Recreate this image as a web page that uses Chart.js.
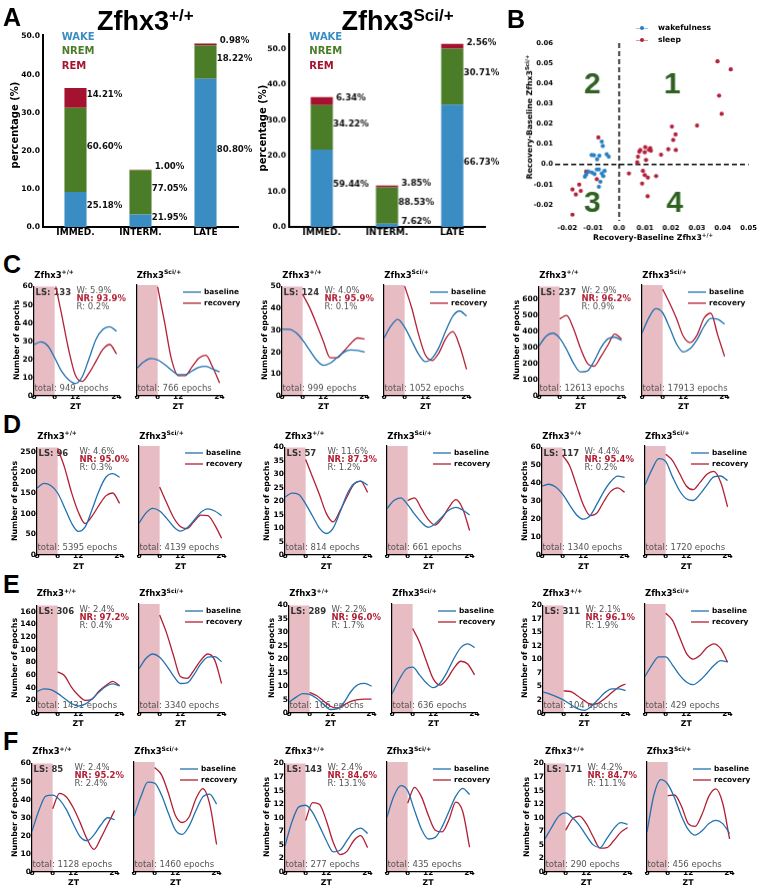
<!DOCTYPE html>
<html lang="en">
<head>
<meta charset="UTF-8" />
<title>Zfhx3 sleep recovery</title>
<script src="https://cdn.jsdelivr.net/npm/chart.js"></script>
<style>
  body { margin: 0; background: #fff; font-family: 'DejaVu Sans', sans-serif; }
  #fig { position: relative; width: 761px; height: 888px; overflow: hidden; }
  #fig canvas { position: absolute; }
  .t { position: absolute; white-space: nowrap; line-height: 1; color: #000; }
  .c { transform: translate(-50%, -50%); }
  .rot { transform: translate(-50%, -50%) rotate(-90deg); }
  .letter { font-family: 'Liberation Sans', Arial, sans-serif; font-weight: bold; font-size: 25px; }
  .big { font-family: 'Liberation Sans', Arial, sans-serif; font-weight: bold; font-size: 27px; }
  .big span { position: relative; top: -9px; font-size: 17px; }
  .st { font-weight: bold; font-size: 8.5px; }
  .st span { position: relative; top: -3.5px; font-size: 6px; }
  .lab { font-weight: bold; font-size: 7.8px; }
  .lab span { position: relative; top: -3px; font-size: 5.5px; }
  .stage { font-weight: bold; font-size: 10px; }
</style>
</head>
<body>
<div id="fig"></div>
<script>
// ---- panel A: percentage of each stage, stacked
const stages = ['IMMED.', 'INTERM.', 'LATE'];
const wtWake = [9.2, 3.3, 38.9];
const wtNrem = [22.1, 11.6, 8.8];
const wtRem = [5.2, 0.15, 0.47];
const wtWakeLbl = ['25.18%', '21.95%', '80.80%'];
const wtNremLbl = ['60.60%', '77.05%', '18.22%'];
const wtRemLbl = ['14.21%', '1.00%', '0.98%'];
const sciWake = [21.75, 0.89, 34.4];
const sciNrem = [12.5, 10.3, 15.8];
const sciRem = [2.32, 0.45, 1.32];
const sciWakeLbl = ['59.44%', '7.62%', '66.73%'];
const sciNremLbl = ['34.22%', '88.53%', '30.71%'];
const sciRemLbl = ['6.34%', '3.85%', '2.56%'];
const pctTicks = [0, 10, 20, 30, 40, 50];

// ---- panel B: recovery-baseline differences
const wakeX = [-0.0067, -0.0063, -0.0106, -0.0097, -0.0076, -0.0085, -0.0048, -0.0040, -0.0132, -0.0120,
  -0.0105, -0.0095, -0.0086, -0.0078, -0.0067, -0.0061, -0.0056, -0.0072, -0.0078, -0.0127];
const wakeY = [0.0113, 0.0091, 0.0046, 0.0045, 0.0043, 0.0025, 0.0050, 0.0038, -0.0061, -0.0036,
  -0.0040, -0.0048, -0.0025, -0.0025, -0.0045, -0.0058, -0.0032, -0.0086, -0.0111, -0.0050];
const sleepX = [0.0380, 0.0431, 0.0386, 0.0396, 0.0301, 0.0204, 0.0218, 0.0209, 0.0190, 0.0219,
  0.0162, 0.0143, 0.0120, 0.0123, 0.0115, 0.0101, 0.0099, 0.0082, 0.0078, 0.0073,
  0.0070, 0.0104, 0.0092, 0.0099, 0.0111, 0.0089, 0.0110, 0.0038, -0.0080, -0.0086,
  -0.0127, -0.0120, -0.0154, -0.0148, -0.0180, -0.0167, -0.0180];
const sleepY = [0.0510, 0.0470, 0.0340, 0.0250, 0.0192, 0.0187, 0.0148, 0.0121, 0.0075, 0.0071,
  0.0048, -0.0058, 0.0080, 0.0068, 0.0072, 0.0085, 0.0060, 0.0071, 0.0063, 0.0038,
  0.0010, 0.0022, -0.0032, -0.0053, -0.0065, -0.0095, -0.0158, -0.0045, 0.0133, -0.0073,
  -0.0036, -0.0036, -0.0100, -0.0131, -0.0124, -0.0149, -0.0249];
const diffTicksX = [-0.02, -0.01, 0, 0.01, 0.02, 0.03, 0.04, 0.05];
const diffTicksY = [-0.02, -0.01, 0, 0.01, 0.02, 0.03, 0.04, 0.05, 0.06];

// ---- panels C-F: epochs over the day
const ztBase = [0, 2, 4, 6, 8, 10, 12, 14, 16, 18, 20, 22, 24];
const ztRec = [6, 8, 10, 12, 14, 16, 18, 20, 22, 24];
const ztTicks = [0, 6, 12, 24];

const c1Ticks = [0, 10, 20, 30, 40, 50, 60];
const c1WtBase = [28.2, 29.6, 27.5, 21, 13.6, 9, 6.8, 10.5, 20.5, 31, 36.5, 38, 35.5];
const c1WtRec = [63, 45, 26, 11.5, 8, 12.5, 19, 25.5, 28.2, 23];
const c1SciBase = [15, 18.5, 20.3, 19.5, 17, 14, 11.5, 11.5, 13.5, 15.5, 16, 14.5, 13];
const c1SciRec = [59, 40, 20, 11, 11, 15.8, 20.5, 22, 15.5, 7];
const c1Stats = ['LS: 133', 'W: 5.9%', 'NR: 93.9%', 'R: 0.2%'];
const c1Totals = ['total: 949 epochs', 'total: 766 epochs'];

const c2Ticks = [0, 10, 20, 30, 40, 50];
const c2WtBase = [30.5, 30.5, 29, 25.5, 21, 16.5, 14, 15, 17.5, 20, 21, 20.8, 20];
const c2WtRec = [46.5, 40.5, 33, 25, 17.5, 17.5, 20.5, 24, 26.5, 26];
const c2SciBase = [26, 31.5, 34.5, 31, 25, 19, 15.5, 17, 22, 29.5, 36, 38.3, 36];
const c2SciRec = [49.5, 40, 28, 18.5, 16, 19.5, 26, 29, 22.5, 12];
const c2Stats = ['LS: 124', 'W: 4.0%', 'NR: 95.9%', 'R: 0.1%'];
const c2Totals = ['total: 999 epochs', 'total: 1052 epochs'];

const c3Ticks = [0, 100, 200, 300, 400, 500, 600];
const c3WtBase = [310, 370, 390, 360, 290, 205, 150, 155, 215, 300, 355, 365, 345];
const c3WtRec = [478, 500, 420, 300, 205, 185, 245, 315, 385, 355];
const c3SciBase = [385, 480, 535, 510, 420, 320, 270, 290, 345, 425, 475, 470, 440];
const c3SciRec = [655, 570, 476, 366, 327, 373, 476, 507, 373, 242];
const c3Stats = ['LS: 237', 'W: 2.9%', 'NR: 96.2%', 'R: 0.9%'];
const c3Totals = ['total: 12613 epochs', 'total: 17913 epochs'];

const d1Ticks = [0, 50, 100, 150, 200, 250];
const d1WtBase = [162, 173, 168, 150, 115, 78, 57, 68, 110, 155, 188, 197, 188];
const d1WtRec = [258, 212, 152, 104, 76, 94, 120, 143, 150, 125];
const d1SciBase = [76, 100, 111, 105, 88, 68, 57, 65, 83, 102, 110, 105, 94];
const d1SciRec = [162, 125, 90, 68, 63, 80, 95, 94, 72, 40];
const d1Stats = ['LS: 96', 'W: 4.6%', 'NR: 95.0%', 'R: 0.3%'];
const d1Totals = ['total: 5395 epochs', 'total: 4139 epochs'];

const d2Ticks = [0, 5, 10, 15, 20, 25, 30, 35, 40];
const d2WtBase = [21.5, 23, 22.5, 19, 14.5, 10, 8, 10, 16, 22.5, 26.5, 27.5, 26];
const d2WtRec = [35.5, 29, 22.5, 15.5, 12.3, 16.5, 21.6, 26.3, 27.5, 23.3];
const d2SciBase = [17, 20, 21, 18.5, 15, 12, 10.2, 11.5, 14, 16.5, 17.5, 16.5, 14.7];
const d2SciRec = [20, 21, 17, 13, 11, 13.5, 17.5, 20.3, 17, 9];
const d2Stats = ['LS: 57', 'W: 11.6%', 'NR: 87.3%', 'R: 1.2%'];
const d2Totals = ['total: 814 epochs', 'total: 661 epochs'];

const d3Ticks = [0, 10, 20, 30, 40, 50, 60];
const d3WtBase = [38.5, 39.5, 38, 34, 28, 22.5, 20, 22, 28.5, 35.5, 41, 44, 43.3];
const d3WtRec = [55.5, 50, 39, 28, 22, 23.5, 30, 35.5, 37.5, 35];
const d3SciBase = [38.5, 47, 53, 51.5, 43, 35.5, 31, 30, 33.5, 38.5, 43, 43.5, 41];
const d3SciRec = [55.5, 52, 45, 38, 36, 40, 44.5, 46, 40, 26.5];
const d3Stats = ['LS: 117', 'W: 4.4%', 'NR: 95.4%', 'R: 0.2%'];
const d3Totals = ['total: 1340 epochs', 'total: 1720 epochs'];

const e1Ticks = [0, 20, 40, 60, 80, 100, 120, 140, 160];
const e1WtBase = [34, 38, 37, 31, 23, 15, 11, 14, 22, 33, 42, 46, 43];
const e1WtRec = [65, 59, 41, 28, 20, 22, 34.5, 43.5, 50, 43.3];
const e1SciBase = [69, 85, 92, 87, 74, 58, 46, 47, 60, 77, 87, 88, 80];
const e1SciRec = [153, 125, 90, 57, 54, 67, 82.5, 92, 82.5, 46];
const e1Stats = ['LS: 306', 'W: 2.4%', 'NR: 97.2%', 'R: 0.4%'];
const e1Totals = ['total: 1431 epochs', 'total: 3340 epochs'];

const e2Ticks = [0, 5, 10, 15, 20, 25, 30, 35, 40];
const e2WtBase = [4, 5.8, 7.2, 6.9, 5.5, 3.3, 1.3, 1.5, 4, 8, 10.5, 11, 10];
const e2WtRec = [7.7, 6.5, 4.5, 2.5, 1.8, 3, 4.3, 5, 5.2, 5.2];
const e2SciBase = [7, 12, 16, 16.8, 14, 11, 9.3, 11, 15, 20, 24, 25.4, 24];
const e2SciRec = [31, 26, 19, 12.5, 10.2, 12.5, 16.5, 19, 18, 14];
const e2Stats = ['LS: 289', 'W: 2.2%', 'NR: 96.0%', 'R: 1.7%'];
const e2Totals = ['total: 166 epochs', 'total: 636 epochs'];

const e3Ticks = [0, 2.5, 5, 7.5, 10, 12.5, 15, 17.5, 20];
const e3WtBase = [3.9, 3.5, 3, 2.4, 1.6, 0.8, 0.5, 1.2, 2.5, 3.8, 4.5, 4.5, 4.2];
const e3WtRec = [4.1, 4.0, 3.2, 2.3, 1.6, 1.8, 2.7, 3.8, 4.8, 5.4];
const e3SciBase = [6.7, 8.8, 10.3, 10.3, 8.8, 7, 5.7, 5.2, 6, 7.3, 8.7, 9.6, 9.4];
const e3SciRec = [18.3, 17, 14, 11, 9.9, 10.6, 12, 12.7, 11.8, 9.3];
const e3Stats = ['LS: 311', 'W: 2.1%', 'NR: 96.1%', 'R: 1.9%'];
const e3Totals = ['total: 104 epochs', 'total: 429 epochs'];

const f1Ticks = [0, 10, 20, 30, 40, 50, 60];
const f1WtBase = [22.5, 34, 42, 42.5, 40, 34.5, 26.5, 19.5, 17.3, 20.5, 26, 30, 29];
const f1WtRec = [35, 43.5, 41.5, 35.5, 27.3, 18.2, 12.5, 18.7, 26.4, 34];
const f1SciBase = [30.5, 41, 49, 48.5, 42, 32, 23, 20.5, 25, 33.5, 41, 42.5, 37];
const f1SciRec = [57, 53, 43, 31, 27, 30, 40, 45.5, 37, 15];
const f1Stats = ['LS: 85', 'W: 2.4%', 'NR: 95.2%', 'R: 2.4%'];
const f1Totals = ['total: 1128 epochs', 'total: 1460 epochs'];

const f2Ticks = [0, 2.5, 5, 7.5, 10, 12.5, 15, 17.5, 20];
const f2WtBase = [4.8, 9.2, 12, 12.3, 11, 8.5, 5.8, 3.7, 4, 5.8, 7.5, 8.1, 7.1];
const f2WtRec = [9.5, 12.8, 12.5, 9.5, 5.5, 3.2, 3.8, 5.8, 6.7, 4.5];
const f2SciBase = [10, 13.8, 15.7, 14.8, 11.2, 7.8, 6, 6.3, 8.2, 11, 13.8, 15.2, 14.1];
const f2SciRec = [12.5, 15.4, 13.7, 10.3, 7.6, 7.3, 9.5, 12.7, 11, 4.5];
const f2Stats = ['LS: 143', 'W: 2.4%', 'NR: 84.6%', 'R: 13.1%'];
const f2Totals = ['total: 277 epochs', 'total: 435 epochs'];

const f3Ticks = [0, 2.5, 5, 7.5, 10, 12.5, 15, 17.5, 20];
const f3WtBase = [6.1, 8.3, 10.3, 10.9, 10, 8.6, 6.7, 5, 4.5, 6.2, 8, 9.1, 8.8];
const f3WtRec = [7.7, 9.8, 10.3, 8.9, 6.5, 4.4, 4.5, 5.8, 7.3, 8.2];
const f3SciBase = [7.3, 14, 16.8, 16, 13.5, 10.2, 7.7, 6.7, 7.5, 8.8, 9.4, 8.8, 7];
const f3SciRec = [13.9, 14, 12, 8.8, 8.3, 10.5, 13.8, 15.1, 12.5, 6];
const f3Stats = ['LS: 171', 'W: 4.2%', 'NR: 84.7%', 'R: 11.1%'];
const f3Totals = ['total: 290 epochs', 'total: 456 epochs'];

// ---- colours
const C_WAKE = '#3a8dc3', C_NREM = '#4b7d28', C_REM = '#a5122f';
const BLUE = '#2272b0', RED = '#b21f35', PINK = '#e8bcc3', GRAY = '#555', GREEN_NUM = '#2f6222';
const FONT = 'DejaVu Sans';

Chart.defaults.font.family = FONT;
const fig = document.getElementById('fig');

function addText(html, x, y, cls) {
  const d = document.createElement('div');
  d.className = 't ' + (cls || '');
  d.style.left = x + 'px';
  d.style.top = y + 'px';
  d.innerHTML = html;
  fig.appendChild(d);
  return d;
}

function makeCanvas(left, top, w, h) {
  const cv = document.createElement('canvas');
  cv.width = w; cv.height = h;
  cv.style.left = left + 'px'; cv.style.top = top + 'px';
  cv.style.width = w + 'px'; cv.style.height = h + 'px';
  fig.appendChild(cv);
  return cv;
}

const fixedTicks = list => scale => { scale.ticks = list.map(v => ({ value: v })); };

// pink band (ZT 0-6) behind the curves
const shadePlugin = {
  id: 'shade',
  beforeDraw(chart, args, o) {
    if (o.to == null) return;
    const { ctx, chartArea: a, scales: { x } } = chart;
    const x0 = x.getPixelForValue(o.from), x1 = x.getPixelForValue(o.to);
    ctx.save();
    ctx.fillStyle = PINK;
    ctx.fillRect(x0, a.top, x1 - x0, a.bottom - a.top);
    ctx.restore();
  }
};

// stats text, totals and the little legend
const notesPlugin = {
  id: 'notes',
  beforeDatasetsDraw(chart, args, o) {
    const { ctx, chartArea: a } = chart;
    ctx.save();
    ctx.textAlign = 'left';
    ctx.textBaseline = 'middle';
    if (o.stats) {
      ctx.font = 'bold 8.5px "' + FONT + '"'; ctx.fillStyle = '#333';
      ctx.fillText(o.stats[0], a.left + 1.5, a.top + 6);
      ctx.font = '8.5px "' + FONT + '"'; ctx.fillStyle = GRAY;
      ctx.fillText(o.stats[1], a.left + 42.5, a.top + 4);
      ctx.font = 'bold 8.5px "' + FONT + '"'; ctx.fillStyle = RED;
      ctx.fillText(o.stats[2], a.left + 42.5, a.top + 12);
      ctx.font = '8.5px "' + FONT + '"'; ctx.fillStyle = GRAY;
      ctx.fillText(o.stats[3], a.left + 42.5, a.top + 20);
    }
    ctx.font = '8.5px "' + FONT + '"'; ctx.fillStyle = GRAY;
    ctx.fillText(o.total, a.left + 0.5, a.bottom - 7);
    ctx.restore();
  },
  afterDatasetsDraw(chart, args, o) {
    if (!o.legend) return;
    const { ctx, chartArea: a } = chart;
    ctx.save();
    ctx.lineWidth = 1.3;
    ctx.font = 'bold 7.4px "' + FONT + '"';
    ctx.fillStyle = '#000';
    ctx.textBaseline = 'middle';
    [['baseline', BLUE, 7], ['recovery', RED, 18]].forEach(([txt, col, dy]) => {
      ctx.strokeStyle = col;
      ctx.beginPath();
      ctx.moveTo(a.left + 46, a.top + dy); ctx.lineTo(a.left + 64, a.top + dy);
      ctx.stroke();
      ctx.fillText(txt, a.left + 67, a.top + dy);
    });
    ctx.restore();
  }
};

// ---------------- panel A ----------------
const barLabelPlugin = {
  id: 'barLabels',
  afterDatasetsDraw(chart, args, o) {
    const { ctx } = chart;
    ctx.save();
    ctx.font = 'bold 8.6px "' + FONT + '"';
    ctx.fillStyle = '#111';
    ctx.textAlign = 'center';
    ctx.textBaseline = 'bottom';
    chart.data.datasets.forEach((ds, d) => {
      chart.getDatasetMeta(d).data.forEach((bar, i) => {
        const p = bar.getProps(['x', 'y', 'base', 'width'], true);
        ctx.fillText(o.labels[d][i], p.x + p.width / 2 + 18, (p.y + p.base) / 2 + 1);
      });
    });
    ctx.restore();
  }
};

function stackChart(axLeft, axTop, axBottom, axRight, ymax, wake, nrem, rem, labels) {
  const PL = 30, PT = 6, PR = 26, PB = 16;
  const cv = makeCanvas(axLeft - PL, axTop - PT, axRight - axLeft + PL + PR, axBottom - axTop + PT + PB);
  new Chart(cv, {
    type: 'bar',
    data: {
      labels: stages,
      datasets: [
        { label: 'WAKE', data: wake, backgroundColor: C_WAKE },
        { label: 'NREM', data: nrem, backgroundColor: C_NREM },
        { label: 'REM', data: rem, backgroundColor: C_REM }
      ]
    },
    options: {
      responsive: false, animation: false, events: [],
      layout: { padding: { left: 0, top: PT, right: PR, bottom: 0 } },
      datasets: { bar: { categoryPercentage: 1, barPercentage: 0.34 } },
      plugins: { legend: { display: false }, tooltip: { enabled: false }, barLabels: { labels } },
      scales: {
        x: {
          stacked: true,
          grid: { display: false, drawTicks: false },
          border: { color: '#000', width: 2 },
          afterFit: s => { s.height = PB; },
          ticks: { color: '#000', padding: 0, font: { weight: 'bold', size: 9 } }
        },
        y: {
          stacked: true, min: 0, max: ymax,
          grid: { display: false, drawTicks: false },
          border: { color: '#000', width: 2 },
          afterBuildTicks: fixedTicks(pctTicks),
          afterFit: s => { s.width = PL; },
          ticks: { color: '#000', padding: 3, font: { weight: 'bold', size: 7.6 }, callback: v => v.toFixed(1) }
        }
      }
    },
    plugins: [barLabelPlugin]
  });
}

stackChart(43, 33, 227, 238, 50.5, wtWake, wtNrem, wtRem, [wtWakeLbl, wtNremLbl, wtRemLbl]);
stackChart(289.3, 32, 226.7, 485, 54.4, sciWake, sciNrem, sciRem, [sciWakeLbl, sciNremLbl, sciRemLbl]);

addText('A', 3, 5, 'letter');
addText('Zfhx3<span>+/+</span>', 97, 7.5, 'big');
addText('Zfhx3<span>Sci/+</span>', 341.5, 7.5, 'big');
addText('percentage (%)', 15, 125, 'rot stage');
addText('percentage (%)', 263, 128, 'rot stage');
[61.7, 309.3].forEach(x => {
  addText('WAKE', x, 31.7, 'stage').style.color = C_WAKE;
  addText('NREM', x, 45.7, 'stage').style.color = C_NREM;
  addText('REM', x, 60.7, 'stage').style.color = C_REM;
});

// ---------------- panel B ----------------
const quadrantPlugin = {
  id: 'quadrants',
  beforeDatasetsDraw(chart) {
    const { ctx, chartArea: a, scales: { x, y } } = chart;
    ctx.save();
    ctx.strokeStyle = '#000';
    ctx.lineWidth = 1.5;
    ctx.setLineDash([5, 3]);
    const x0 = x.getPixelForValue(0), y0 = y.getPixelForValue(0);
    ctx.beginPath(); ctx.moveTo(x0, a.top); ctx.lineTo(x0, a.bottom); ctx.stroke();
    ctx.beginPath(); ctx.moveTo(a.left, y0); ctx.lineTo(a.right, y0); ctx.stroke();
    ctx.setLineDash([]);
    ctx.fillStyle = GREEN_NUM;
    ctx.font = 'bold 30px "Liberation Sans"';
    ctx.textAlign = 'center';
    ctx.textBaseline = 'middle';
    [['2', -0.0103, 0.0395], ['1', 0.0205, 0.0395], ['3', -0.0103, -0.0195], ['4', 0.0215, -0.0195]]
      .forEach(([t, vx, vy]) => ctx.fillText(t, x.getPixelForValue(vx), y.getPixelForValue(vy)));
    ctx.restore();
  }
};

(function () {
  const L = 555, R = 751.5, T = 43.3, B = 221;
  const PL = 24, PT = 6, PR = 8, PB = 14;
  const cv = makeCanvas(L - PL, T - PT, R - L + PL + PR, B - T + PT + PB);
  const tickFmt = v => (Math.abs(v) < 1e-9 ? '0.0' : v.toFixed(2));
  new Chart(cv, {
    type: 'scatter',
    data: {
      datasets: [
        { data: wakeX.map((x, i) => ({ x, y: wakeY[i] })), backgroundColor: '#2a7fc1', borderWidth: 0, pointRadius: 2.1 },
        { data: sleepX.map((x, i) => ({ x, y: sleepY[i] })), backgroundColor: '#b3203a', borderWidth: 0, pointRadius: 2.1 }
      ]
    },
    options: {
      responsive: false, animation: false, events: [],
      layout: { padding: { left: 0, top: PT, right: PR, bottom: 0 } },
      plugins: { legend: { display: false }, tooltip: { enabled: false } },
      scales: {
        x: {
          type: 'linear', min: -0.0247, max: 0.05,
          grid: { display: false, drawTicks: false }, border: { display: false },
          afterBuildTicks: fixedTicks(diffTicksX),
          afterFit: s => { s.height = PB; },
          ticks: { color: '#000', padding: 3, maxRotation: 0, autoSkip: false, font: { weight: 'bold', size: 6.8 }, callback: tickFmt }
        },
        y: {
          type: 'linear', min: -0.028, max: 0.06,
          grid: { display: false, drawTicks: false }, border: { display: false },
          afterBuildTicks: fixedTicks(diffTicksY),
          afterFit: s => { s.width = PL; },
          ticks: { color: '#000', padding: 2, font: { weight: 'bold', size: 6.8 }, callback: tickFmt }
        }
      }
    },
    plugins: [quadrantPlugin]
  });
})();

addText('B', 507, 6.7, 'letter');
addText('Recovery-Baseline Zfhx3<span>+/+</span>', 653, 238.3, 'c lab');
addText('Recovery-Baseline Zfhx3<span>Sci/+</span>', 530, 117, 'rot lab');
[['wakefulness', '#2a7fc1', 28.3], ['sleep', '#b3203a', 40]].forEach(([t, col, y]) => {
  const ln = addText('', 636, y - 0.5, '');
  ln.style.width = '12px'; ln.style.borderTop = '1px solid ' + col; ln.style.opacity = '0.45';
  const dot = addText('', 640, y - 2, '');
  dot.style.width = '4px'; dot.style.height = '4px'; dot.style.borderRadius = '50%'; dot.style.background = col;
  addText(t, 658, y - 4, 'lab').style.fontSize = '7.6px';
});

// ---------------- panels C-F ----------------
const rows = [
  { top: 285, bottom: 395.5, letter: 'C', letterTop: 251.7 },
  { top: 446, bottom: 555, letter: 'D', letterTop: 411.7 },
  { top: 603.5, bottom: 712.7, letter: 'E', letterTop: 571.7 },
  { top: 761.7, bottom: 871.7, letter: 'F', letterTop: 728.5 }
];

const groups = [
  { row: 0, wtLeft: 34.3, sciLeft: 136.7, ymax: 60, ticks: c1Ticks, wb: c1WtBase, wr: c1WtRec, sb: c1SciBase, sr: c1SciRec, stats: c1Stats, totals: c1Totals },
  { row: 0, wtLeft: 282.3, sciLeft: 384.3, ymax: 50, ticks: c2Ticks, wb: c2WtBase, wr: c2WtRec, sb: c2SciBase, sr: c2SciRec, stats: c2Stats, totals: c2Totals },
  { row: 0, wtLeft: 539.3, sciLeft: 642.3, ymax: 680, ticks: c3Ticks, wb: c3WtBase, wr: c3WtRec, sb: c3SciBase, sr: c3SciRec, stats: c3Stats, totals: c3Totals },
  { row: 1, wtLeft: 37.3, sciLeft: 139.3, ymax: 260, ticks: d1Ticks, wb: d1WtBase, wr: d1WtRec, sb: d1SciBase, sr: d1SciRec, stats: d1Stats, totals: d1Totals },
  { row: 1, wtLeft: 285, sciLeft: 387.3, ymax: 40, ticks: d2Ticks, wb: d2WtBase, wr: d2WtRec, sb: d2SciBase, sr: d2SciRec, stats: d2Stats, totals: d2Totals },
  { row: 1, wtLeft: 542.3, sciLeft: 645, ymax: 60, ticks: d3Ticks, wb: d3WtBase, wr: d3WtRec, sb: d3SciBase, sr: d3SciRec, stats: d3Stats, totals: d3Totals },
  { row: 2, wtLeft: 36.7, sciLeft: 139.3, ymax: 170, ticks: e1Ticks, wb: e1WtBase, wr: e1WtRec, sb: e1SciBase, sr: e1SciRec, stats: e1Stats, totals: e1Totals },
  { row: 2, wtLeft: 289.3, sciLeft: 392.3, ymax: 40, ticks: e2Ticks, wb: e2WtBase, wr: e2WtRec, sb: e2SciBase, sr: e2SciRec, stats: e2Stats, totals: e2Totals },
  { row: 2, wtLeft: 542.7, sciLeft: 645, ymax: 20, ticks: e3Ticks, wb: e3WtBase, wr: e3WtRec, sb: e3SciBase, sr: e3SciRec, stats: e3Stats, totals: e3Totals },
  { row: 3, wtLeft: 32.3, sciLeft: 134.3, ymax: 60, ticks: f1Ticks, wb: f1WtBase, wr: f1WtRec, sb: f1SciBase, sr: f1SciRec, stats: f1Stats, totals: f1Totals },
  { row: 3, wtLeft: 285, sciLeft: 386.7, ymax: 20, ticks: f2Ticks, wb: f2WtBase, wr: f2WtRec, sb: f2SciBase, sr: f2SciRec, stats: f2Stats, totals: f2Totals },
  { row: 3, wtLeft: 545, sciLeft: 646.7, ymax: 20, ticks: f3Ticks, wb: f3WtBase, wr: f3WtRec, sb: f3SciBase, sr: f3SciRec, stats: f3Stats, totals: f3Totals }
];

const AX_W = 85, X_MAX = 24.7;

function epochChart(left, top, bottom, g, base, rec, isWt, total) {
  const PL = 24, PT = 4, PR = 26, PB = 12;
  const h = bottom - top;
  const cv = makeCanvas(left - PL, top - PT, AX_W + PL + PR, h + PT + PB);
  const line = (xs, ys, col) => ({
    data: xs.map((x, i) => ({ x, y: ys[i] })),
    borderColor: col, borderWidth: 1.3, pointRadius: 0, fill: false, cubicInterpolationMode: 'monotone'
  });
  new Chart(cv, {
    type: 'line',
    data: { datasets: [line(ztBase, base, BLUE), line(ztRec, rec, RED)] },
    options: {
      responsive: false, animation: false, events: [],
      layout: { padding: { left: 0, top: PT, right: PR, bottom: 0 } },
      plugins: {
        legend: { display: false }, tooltip: { enabled: false },
        shade: { from: 0, to: 6 },
        notes: { stats: isWt ? g.stats : null, total, legend: !isWt }
      },
      scales: {
        x: {
          type: 'linear', min: 0, max: X_MAX,
          grid: { display: false, drawTicks: false },
          border: { color: '#000', width: 1.2 },
          afterBuildTicks: fixedTicks(ztTicks),
          afterFit: s => { s.height = PB; },
          ticks: { color: '#000', padding: -3, maxRotation: 0, autoSkip: false, font: { weight: 'bold', size: 7.5 }, callback: v => String(v) }
        },
        y: {
          type: 'linear', min: 0, max: g.ymax,
          grid: { display: false, drawTicks: false },
          border: { color: '#000', width: 1.2 },
          afterBuildTicks: fixedTicks(g.ticks),
          afterFit: s => { s.width = PL; },
          ticks: { display: isWt, color: '#000', padding: 1, font: { weight: 'bold', size: 7.5 }, callback: v => String(Math.floor(v)) }
        }
      }
    },
    plugins: [shadePlugin, notesPlugin]
  });
}

rows.forEach(r => addText(r.letter, 3, r.letterTop, 'letter'));

groups.forEach(g => {
  const r = rows[g.row];
  epochChart(g.wtLeft, r.top, r.bottom, g, g.wb, g.wr, true, g.totals[0]);
  epochChart(g.sciLeft, r.top, r.bottom, g, g.sb, g.sr, false, g.totals[1]);

  addText('Zfhx3<span>+/+</span>', g.wtLeft, r.top - 14.5, 'st');
  addText('Zfhx3<span>Sci/+</span>', g.sciLeft, r.top - 14.5, 'st');
  const zt = 82.6 / 2;
  addText('ZT', g.wtLeft + zt, r.bottom + 11.5, 'c lab');
  addText('ZT', g.sciLeft + zt, r.bottom + 11.5, 'c lab');
  const widest = Math.max(...g.ticks.map(v => String(Math.floor(v)).length));
  addText('Number of epochs', g.wtLeft - (9 + 4.3 * widest), (r.top + r.bottom) / 2, 'rot lab');
});
</script>
</body>
</html>
